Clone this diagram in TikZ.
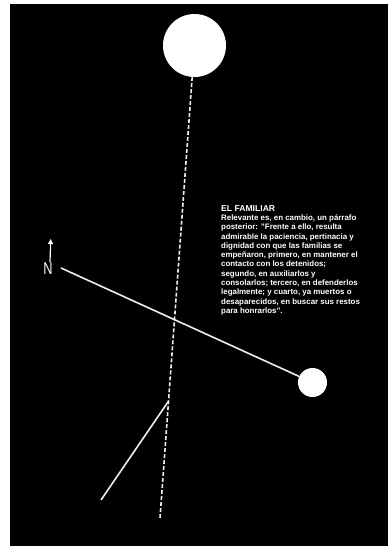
\documentclass[tikz,border=0pt]{standalone}
\usepackage{fontspec}
\setmainfont{Liberation Sans}
\usetikzlibrary{arrows.meta, positioning}
\definecolor{cLine}{RGB}{238,238,238}
\definecolor{cPaper}{RGB}{255,255,255}
\tikzset{
  %% bodies
  ball/.style={circle, fill=white, draw=none, inner sep=0pt},
  %% lines
  rod/.style={draw=cLine, line width=1.6pt},
  dashrod/.style={rod, dash pattern=on 4pt off 2pt},
  %% texts
  headtxt/.style={text=white, font=\bfseries\fontsize{8.6}{9.3}\selectfont,
                  inner sep=0pt, anchor=base west},
  bodytxt/.style={text=white, font=\bfseries\fontsize{7.9}{9.3}\selectfont,
                  align=left, inner sep=0pt},
}

\begin{document}
\begin{tikzpicture}[x=1pt, y=-1pt]

%% -- frame --
\fill[cPaper] (0,0) rectangle (388,546);
\fill[black] (10,4) rectangle (388,546);
\useasboundingbox (0,0) rectangle (388,546);

%% -- the two circles --
\node[ball, minimum size=63pt] (Sun)  at (194.5,45.5) {};
\node[ball, minimum size=29pt] (Moon) at (312.5,382.5) {};

%% -- dashed axis with branch --
\coordinate (Foot) at (160,518);
\draw[dashrod] (Sun) -- (Foot) coordinate[pos=0.735] (Knee);
\coordinate (Toe) at (101,500);
\draw[rod] (Knee) -- (Toe);

%% -- slanted line to small circle --
\coordinate (West) at (61,268);
\draw[rod] (West) -- (Moon);

%% -- north sign --
\node[text=white, font=\fontsize{17}{17}\selectfont, xscale=0.75,
      inner sep=0pt] (North) at (48,268.5) {N};
\coordinate (NorthTip) at (50.7,239);
\draw[draw=white, line width=1.2pt, -{Triangle[length=5pt,width=5pt]}]
  ([xshift=2pt]North.north) -- (NorthTip);

%% -- caption --
\node[headtxt] (Title) at (221,211.7) {EL FAMILIAR};
\node[bodytxt, below=2.6pt of Title.south west, anchor=north west] (Body) {%
  Relevante es, en cambio, un párrafo\\
  posterior: "Frente a ello, resulta\\
  admirable la paciencia, pertinacia y\\
  dignidad con que las familias se\\
  empeñaron, primero, en mantener el\\
  contacto con los detenidos;\\
  segundo, en auxiliarlos y\\
  consolarlos; tercero, en defenderlos\\
  legalmente; y cuarto, ya muertos o\\
  desaparecidos, en buscar sus restos\\
  para honrarlos".};

\end{tikzpicture}
\end{document}
